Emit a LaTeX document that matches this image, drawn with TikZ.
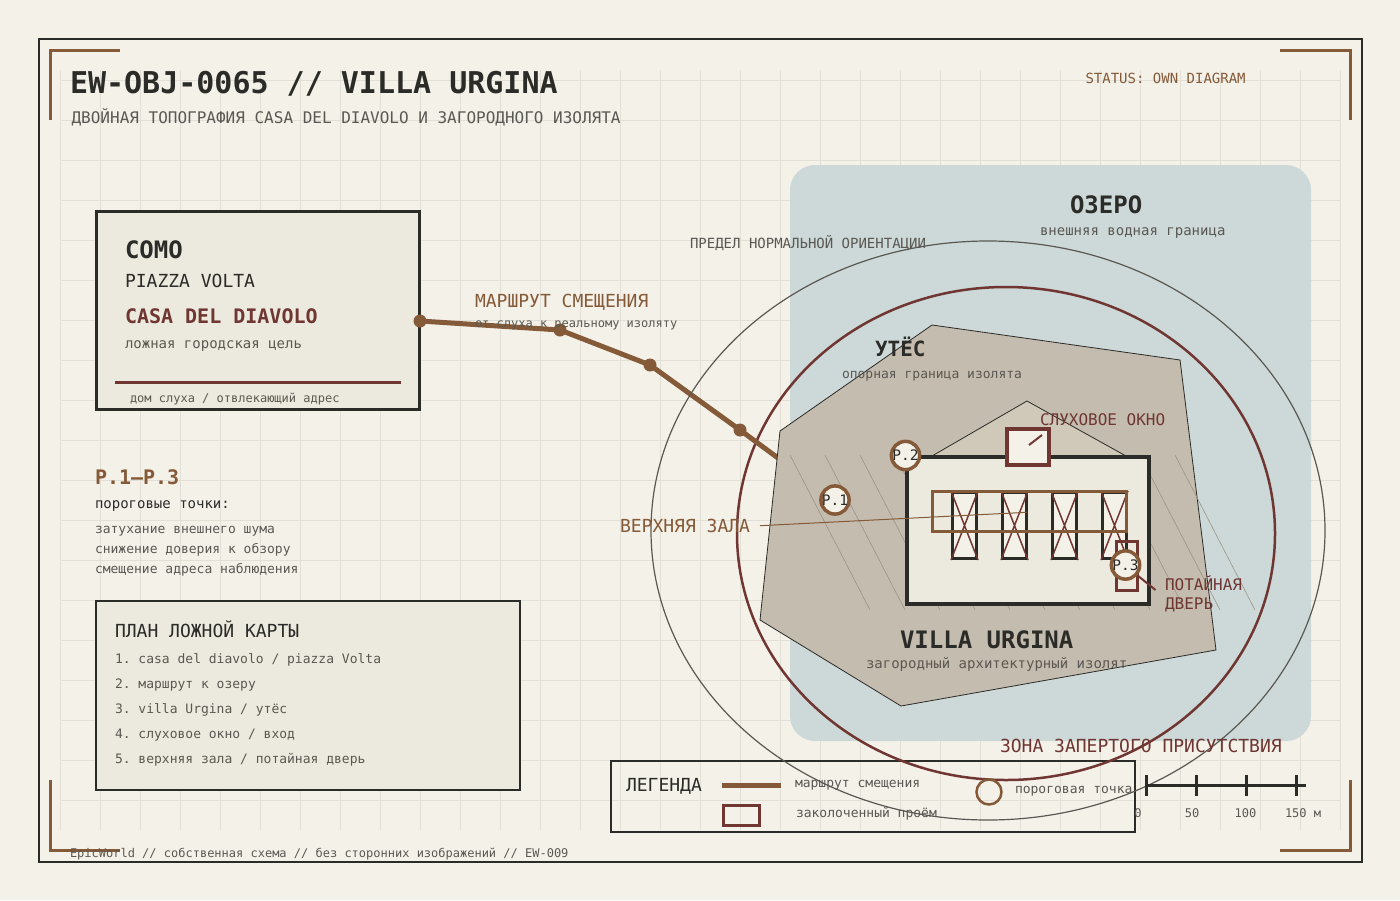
\documentclass[tikz,border=0pt]{standalone}
\usepackage{fontspec}
\setmainfont{DejaVu Sans Mono}
\definecolor{bgc}{HTML}{F4F1E9}
\definecolor{ink}{HTML}{2B2B28}
\definecolor{brownc}{HTML}{855A38}
\definecolor{redc}{HTML}{6F3632}
\definecolor{panel}{HTML}{ECE9DE}
\definecolor{lake}{HTML}{CDD8D8}
\definecolor{terrain}{HTML}{C4BCAE}
\definecolor{roofc}{HTML}{D0C9BA}
\definecolor{gridc}{HTML}{E2DFD7}
\definecolor{muted}{HTML}{5A5852}
\definecolor{hatchc}{HTML}{9A9486}
\newcommand\fz[1]{\fontsize{#1}{#1}\selectfont}
\tikzset{
  txt/.style={anchor=base west,inner sep=0pt,outer sep=0pt},
  ctxt/.style={anchor=base,inner sep=0pt,outer sep=0pt},
  gridline/.style={draw=gridc,line width=1pt},
  bracket/.style={draw=brownc,line width=3pt},
  panelbox/.style={draw=ink,fill=panel,inner sep=0pt,outer sep=0pt,anchor=north west},
  pcircle/.style={circle,draw=brownc,line width=3.5pt,fill=bgc,minimum size=27pt,inner sep=0pt,text=ink,font=\fz{14.5}},
  rdot/.style={circle,fill=brownc,minimum size=13pt,inner sep=0pt},
  hatch/.style={draw=hatchc,line width=0.6pt},
  column/.style={draw=ink,fill=bgc,line width=3pt},
  xmark/.style={draw=redc,line width=1.5pt},
}
\begin{document}
\frenchspacing
\begin{tikzpicture}[x=1pt,y=-1pt]
\useasboundingbox (0,0) rectangle (1400,900);
\fill[bgc] (0,0) rectangle (1400,900);
% grid
\foreach \x in {60,100,...,1340} \draw[gridline] (\x,70) -- (\x,830);
\foreach \y in {80,120,...,800} \draw[gridline] (60,\y) -- (1340,\y);
% frame
\draw[ink,line width=2pt] (39,39) rectangle (1362,862);
\draw[bracket] (50,120) -- (50,50) -- (120,50);
\draw[bracket] (1280,50) -- (1350,50) -- (1350,120);
\draw[bracket] (50,780) -- (50,850) -- (120,850);
\draw[bracket] (1280,850) -- (1350,850) -- (1350,780);
% lake
\fill[lake,rounded corners=25pt] (790,165) rectangle (1311,741);
% panels
\node[panelbox,line width=3pt,minimum width=323pt,minimum height=198pt] (como) at (96.5,211) {};
\node[panelbox,line width=2pt,minimum width=424pt,minimum height=189pt] (plan) at (96,601) {};
\node[anchor=north west,draw=ink,line width=2pt,inner sep=0pt,outer sep=0pt,minimum width=524pt,minimum height=71pt] (legend) at (611,761) {};
% route
\node[rdot] (r0) at (420,321) {};
\node[rdot] (r1) at (560,330) {};
\node[rdot] (r2) at (650,365) {};
\node[rdot] (r3) at (740,430) {};
\coordinate (p1c) at (835,500);
\draw[redc,line width=2.5pt] (1006,533.5) ellipse [x radius=269,y radius=246.5];
\draw[brownc,line width=5pt] (r0.center) -- (r1.center) -- (r2.center) -- (r3.center) -- (p1c);
\draw[muted,line width=1.2pt] (988,530.5) ellipse [x radius=337,y radius=289.5];
% terrain
\draw[draw=ink,line width=0.8pt,fill=terrain] (780,431) -- (932,325) -- (1180,360) -- (1216,650) -- (901,706) -- (760,620) -- cycle;
\foreach \x in {790,825,...,1175} \draw[hatch] (\x,455) -- (\x+80,610);
% roof and building
\draw[draw=ink,line width=0.8pt,fill=roofc] (932,456) -- (1027,401) -- (1126,456) -- cycle;
\node[anchor=north west,draw=ink,fill=panel,line width=4pt,inner sep=0pt,outer sep=0pt,minimum width=242pt,minimum height=147pt] (villa) at (907,457) {};
\node[anchor=north west,draw=redc,fill=bgc,line width=4pt,inner sep=0pt,outer sep=0pt,minimum width=42pt,minimum height=36pt] (earwin) at (1007,429) {};
\coordinate (ws) at (1029,445);
\coordinate (we) at (1042,435);
\draw[redc,line width=2pt] (ws) -- (we);
% columns
\foreach \x in {951,1001,1051,1101} {
  \draw[column] (\x+1.5,492) rectangle (\x+25.5,558.5);
  \draw[xmark] (\x,491) -- (\x+27,560) (\x+27,491) -- (\x,560);
}
\draw[brownc,line width=3pt] (932,491.5) rectangle (1126,531);
% door
\node[anchor=north west,draw=redc,line width=3pt,inner sep=0pt,outer sep=0pt,minimum width=21pt,minimum height=49pt] (door) at (1116,541) {};
% leaders
\coordinate (hallA) at (760,525.7);
\coordinate (hallB) at (1027,512.3);
\draw[brownc,line width=1pt] (hallA) -- (hallB);
\coordinate (doorA) at (1137,575);
\coordinate (doorB) at (1155.5,590);
\draw[redc,line width=2pt] (doorA) -- (doorB);
% threshold points
\node[pcircle] (p1) at (p1c) {P.1};
\node[pcircle] (p2) at (905.5,455.5) {P.2};
\node[pcircle] (p3) at (1125.5,565) {P.3};
% header
\node[txt,text=ink,font=\fz{30}\bfseries] (title) at (70,93) {EW-OBJ-0065 // VILLA URGINA};
\node[txt,text=muted,font=\fz{16}] (sub) at (71.6,123) {ДВОЙНАЯ ТОПОГРАФИЯ CASA DEL DIAVOLO И ЗАГОРОДНОГО ИЗОЛЯТА};
\node[txt,text=brownc,font=\fz{14}] (status) at (1085.5,83) {STATUS: OWN DIAGRAM};
% como
\node[txt,text=ink,font=\fz{24}\bfseries] (t1) at (125,258) {COMO};
\node[txt,text=ink,font=\fz{18}] (t2) at (125,287) {PIAZZA VOLTA};
\node[txt,text=redc,font=\fz{20}\bfseries] (t3) at (125,323) {CASA DEL DIAVOLO};
\node[txt,text=muted,font=\fz{14}] (t4) at (125,348) {ложная городская цель};
\coordinate (cl) at (115,382);
\coordinate (cr) at (401,382);
\draw[redc,line width=3pt] (cl) -- (cr);
\node[txt,text=muted,font=\fz{12}] (t5) at (130,402) {дом слуха / отвлекающий адрес};
% route labels
\node[txt,text=brownc,font=\fz{18}] (rl) at (475,307) {МАРШРУТ СМЕЩЕНИЯ};
\node[txt,text=muted,font=\fz{12}] (rs) at (475,327) {от слуха к реальному изоляту};
% thresholds text
\node[txt,text=brownc,font=\fz{20}\bfseries] (pa) at (95,484) {P.1—P.3};
\node[txt,text=ink,font=\fz{14}] (pb) at (95,508) {пороговые точки:};
\node[txt,text=muted,font=\fz{13}] (pc) at (95,533) {затухание внешнего шума};
\node[txt,text=muted,font=\fz{13}] (pd) at (95,553) {снижение доверия к обзору};
\node[txt,text=muted,font=\fz{13}] (pe) at (95,573) {смещение адреса наблюдения};
% plan
\node[txt,text=ink,font=\fz{18}] (pl0) at (115,637) {ПЛАН ЛОЖНОЙ КАРТЫ};
\node[txt,text=muted,font=\fz{13}] (pl1) at (115,663) {1. casa del diavolo / piazza Volta};
\node[txt,text=muted,font=\fz{13}] (pl2) at (115,688) {2. маршрут к озеру};
\node[txt,text=muted,font=\fz{13}] (pl3) at (115,713) {3. villa Urgina / утёс};
\node[txt,text=muted,font=\fz{13}] (pl4) at (115,738) {4. слуховое окно / вход};
\node[txt,text=muted,font=\fz{13}] (pl5) at (115,763) {5. верхняя зала / потайная дверь};
% map labels
\node[txt,text=ink,font=\fz{24}\bfseries] (oz) at (1070,213) {ОЗЕРО};
\node[txt,text=muted,font=\fz{14}] (oz2) at (1040,235) {внешняя водная граница};
\node[txt,text=muted,font=\fz{14}] (lim) at (690,248) {ПРЕДЕЛ НОРМАЛЬНОЙ ОРИЕНТАЦИИ};
\node[txt,text=ink,font=\fz{21}\bfseries] (ut) at (875,356) {УТЁС};
\node[txt,text=muted,font=\fz{13}] (ut2) at (842,378) {опорная граница изолята};
\node[txt,text=redc,font=\fz{16}] (sl) at (1040,425) {СЛУХОВОЕ ОКНО};
\node[txt,text=redc,font=\fz{16}] (d1) at (1165,590) {ПОТАЙНАЯ};
\node[txt,text=redc,font=\fz{16}] (d2) at (1165,609) {ДВЕРЬ};
\node[txt,text=brownc,font=\fz{18}] (vz) at (620,532) {ВЕРХНЯЯ ЗАЛА};
\node[txt,text=ink,font=\fz{24}\bfseries] (vu) at (900,648) {VILLA URGINA};
\node[txt,text=muted,font=\fz{14}] (vu2) at (866,668) {загородный архитектурный изолят};
\node[txt,text=redc,font=\fz{18}] (zn) at (1000,752) {ЗОНА ЗАПЕРТОГО ПРИСУТСТВИЯ};
% legend
\node[txt,text=ink,font=\fz{18}] (lg) at (626,791) {ЛЕГЕНДА};
\coordinate (la) at (722,785);
\coordinate (lb) at (781,785);
\draw[brownc,line width=5pt] (la) -- (lb);
\node[txt,text=muted,font=\fz{13}] (lg1) at (795,787) {маршрут смещения};
\node[anchor=north west,draw=redc,line width=3pt,inner sep=0pt,outer sep=0pt,minimum width=36pt,minimum height=20pt] (lgbox) at (723.5,805.5) {};
\node[txt,text=muted,font=\fz{13}] (lg2) at (796,817) {заколоченный проём};
\node[circle,draw=brownc,line width=2.5pt,minimum size=25pt,inner sep=0pt] (lgc) at (989,792) {};
\node[txt,text=muted,font=\fz{13}] (lg3) at (1015,793) {пороговая точка};
% scale
\coordinate (sa) at (1145,785);
\coordinate (sb) at (1306,785);
\draw[ink,line width=3pt] (sa) -- (sb);
\foreach \x in {1146,1196,1246,1296} \draw[ink,line width=3pt] (\x,775) -- (\x,796);
\node[ctxt,text=muted,font=\fz{12}] (s0) at (1138,817) {0};
\node[ctxt,text=muted,font=\fz{12}] (s1) at (1192,817) {50};
\node[ctxt,text=muted,font=\fz{12}] (s2) at (1245.5,817) {100};
\node[txt,text=muted,font=\fz{12}] (s3) at (1285,817) {150 м};
% footer
\node[txt,text=muted,font=\fz{12}] (ft) at (70,857) {EpicWorld // собственная схема // без сторонних изображений // EW-009};
\end{tikzpicture}
\end{document}
